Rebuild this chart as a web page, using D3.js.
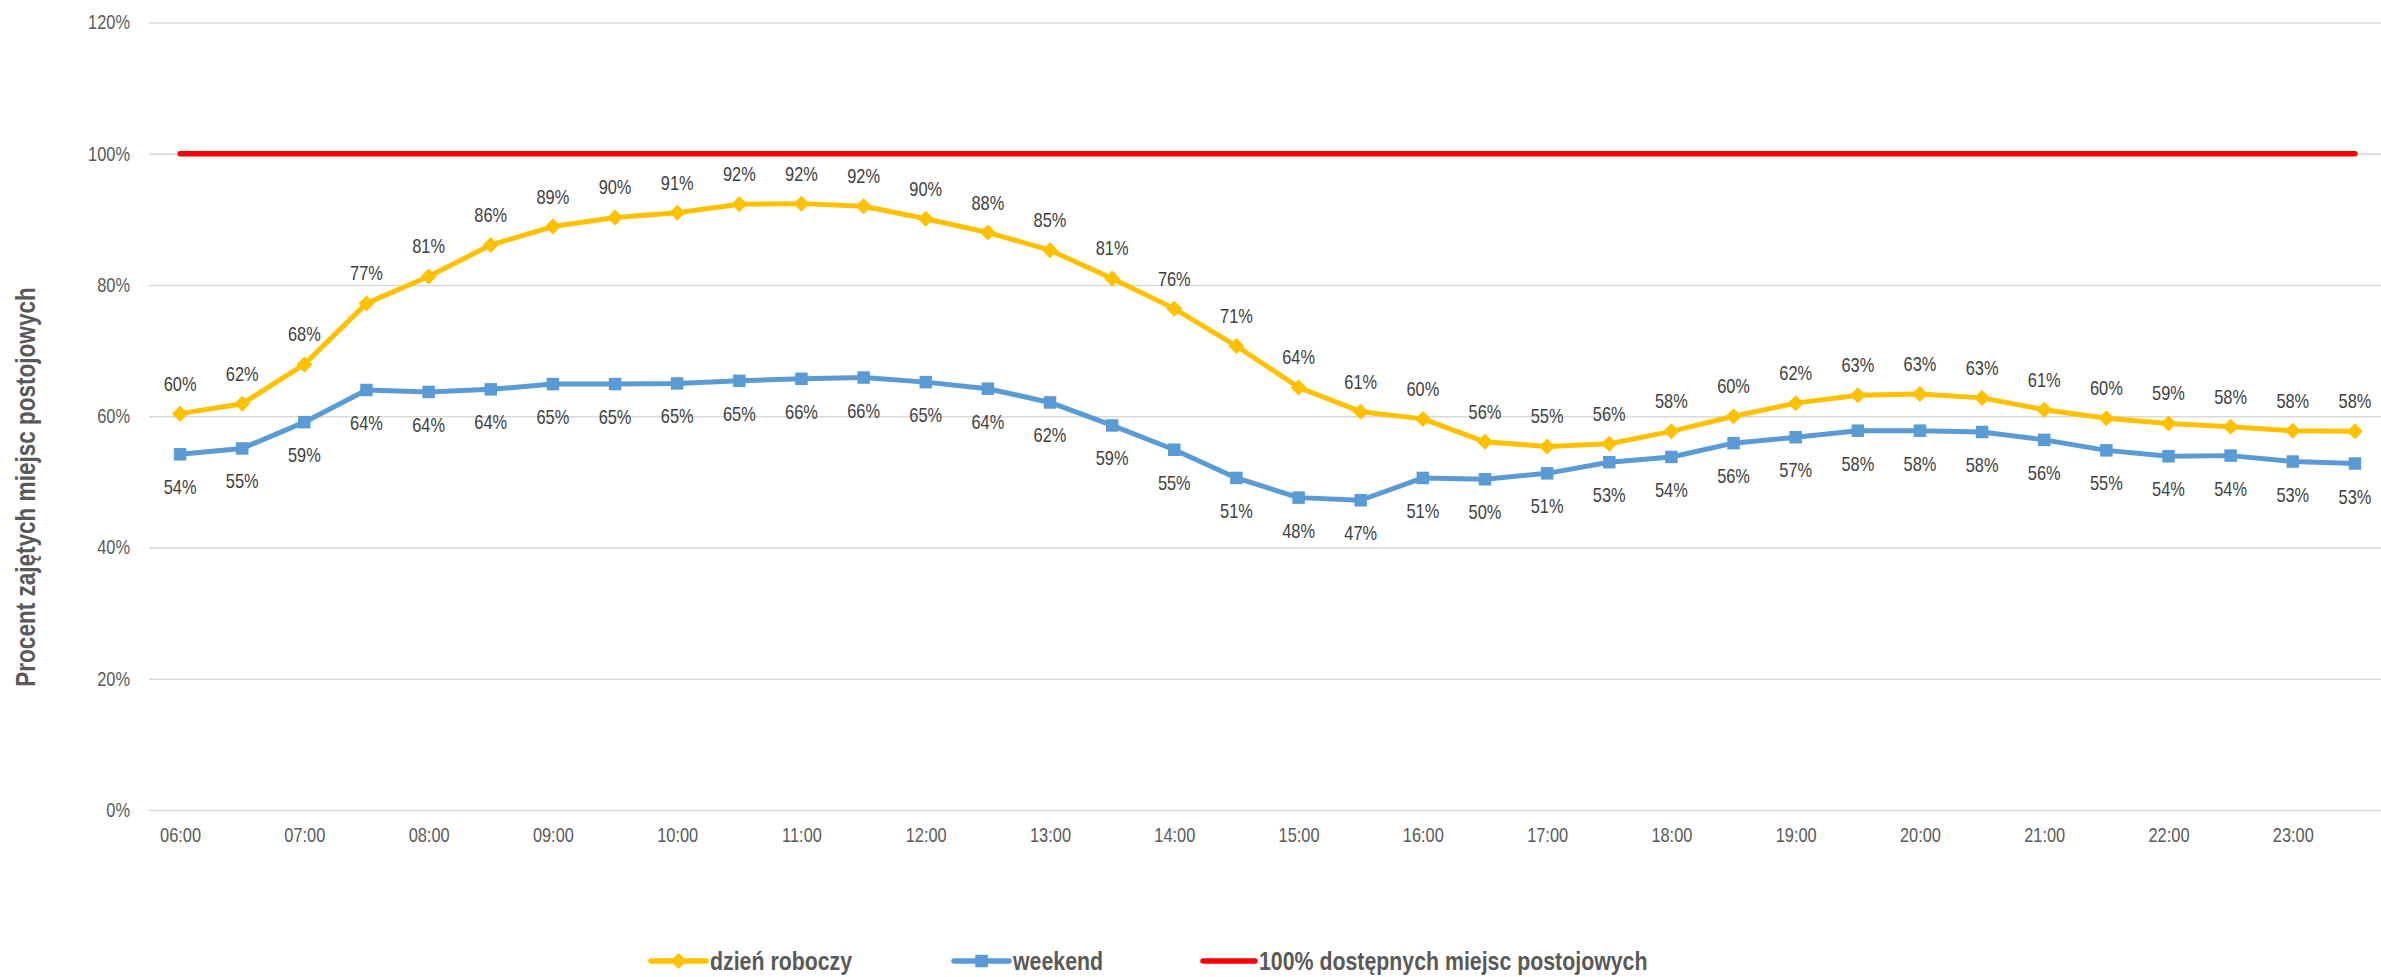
<!DOCTYPE html>
<html>
<head>
<meta charset="utf-8">
<script src="https://cdn.jsdelivr.net/npm/d3@7"></script>
<style>
  html, body { margin: 0; padding: 0; background: #fff; }
  svg { display: block; }
</style>
</head>
<body>
<svg id="chart" width="2381" height="977"></svg>
<script>
// ---------- DATA ----------
const categories = ["06:00","06:30","07:00","07:30","08:00","08:30","09:00","09:30","10:00","10:30",
  "11:00","11:30","12:00","12:30","13:00","13:30","14:00","14:30","15:00","15:30",
  "16:00","16:30","17:00","17:30","18:00","18:30","19:00","19:30","20:00","20:30",
  "21:00","21:30","22:00","22:30","23:00","23:30"];
const xTickLabels = ["06:00","07:00","08:00","09:00","10:00","11:00","12:00","13:00","14:00",
  "15:00","16:00","17:00","18:00","19:00","20:00","21:00","22:00","23:00"];
const yTickValues = [0, 0.2, 0.4, 0.6, 0.8, 1.0, 1.2];
const workday = [0.604,0.619,0.679,0.772,0.813,0.861,0.889,0.903,0.910,0.923,
  0.924,0.920,0.901,0.880,0.853,0.810,0.764,0.707,0.644,0.607,
  0.596,0.561,0.554,0.558,0.577,0.600,0.620,0.632,0.634,0.628,
  0.610,0.597,0.589,0.584,0.578,0.577];
const weekend = [0.542,0.551,0.591,0.640,0.637,0.641,0.649,0.649,0.650,0.654,
  0.657,0.659,0.652,0.642,0.621,0.586,0.549,0.506,0.476,0.472,
  0.506,0.504,0.513,0.530,0.538,0.559,0.568,0.578,0.578,0.576,
  0.564,0.548,0.539,0.540,0.531,0.528];
const capacity = [1,1,1,1,1,1,1,1,1,1,1,1,1,1,1,1,1,1,1,1,1,1,1,1,1,1,1,1,1,1,1,1,1,1,1,1];
const seriesNames = ["dzień roboczy", "weekend", "100% dostępnych miejsc postojowych"];
const yTitle = "Procent zajętych miejsc postojowych";

// ---------- FONT ----------
const narrowOK = (() => {
  const c = document.createElement("canvas").getContext("2d");
  const s = "abcdefghij0123456789%";
  c.font = "40px monospace"; const a = c.measureText(s).width;
  c.font = '40px "Liberation Sans Narrow", monospace'; const b = c.measureText(s).width;
  return Math.abs(a - b) > 1;
})();
const FAMILY = narrowOK ? '"Liberation Sans Narrow", "Arial Narrow", sans-serif' : '"Liberation Sans", Arial, sans-serif';
const SX = narrowOK ? 1 : 0.82;

// ---------- COLORS ----------
const C_WORK = "#FFC000", C_WEEK = "#5B9BD5", C_CAP = "#FF0000";
const C_GRID = "#D9D9D9", C_AXIS = "#595959", C_LABEL = "#404040";

// ---------- LAYOUT ----------
const svg = d3.select("#chart").style("font-family", FAMILY);
const plotL = 149, plotR = 2386, plotT = 22.5, plotB = 810;

const x = d3.scalePoint().domain(categories).range([plotL, plotR]).padding(0.5);
const y = d3.scaleLinear().domain([0, 1.2]).range([plotB, plotT]);

// grid + y axis
const yAxis = d3.axisLeft(y).tickValues(yTickValues).tickFormat(d3.format(".0%"))
  .tickSize(-(plotR - plotL)).tickPadding(19);
const gy = svg.append("g").attr("transform", `translate(${plotL},0)`).call(yAxis);
gy.select(".domain").remove();
gy.selectAll(".tick line").attr("stroke", C_GRID).attr("stroke-width", 1.6);
gy.selectAll(".tick text")
  .attr("fill", C_AXIS).attr("font-size", 20).attr("font-family", FAMILY)
  .attr("x", -19 / SX).attr("transform", `scale(${SX},1)`);

// x axis
const xAxis = d3.axisBottom(x).tickValues(xTickLabels).tickSize(0).tickPadding(18);
const gx = svg.append("g").attr("transform", `translate(0,${plotB})`).call(xAxis);
gx.select(".domain").remove();
gx.selectAll(".tick text")
  .attr("fill", C_AXIS).attr("font-size", 20).attr("font-family", FAMILY)
  .attr("transform", `scale(${SX},1)`);

// helper for scaled text
function addText(parent, tx, ty, str, o) {
  const g = parent.append("g")
    .attr("transform", `translate(${tx},${ty})${o.rotate ? ` rotate(${o.rotate})` : ""} scale(${SX},1)`);
  g.append("text").text(str)
    .attr("text-anchor", o.anchor || "start")
    .attr("font-size", o.size).attr("font-weight", o.weight || "normal")
    .attr("fill", o.fill).attr("font-family", FAMILY);
  return g;
}

// ---------- LINES ----------
const line = d3.line().x((d, i) => x(categories[i])).y(d => y(d));

svg.append("path").datum(capacity).attr("d", line)
  .attr("fill", "none").attr("stroke", C_CAP).attr("stroke-width", 5.5)
  .attr("stroke-linecap", "round");

svg.append("path").datum(weekend).attr("d", line)
  .attr("fill", "none").attr("stroke", C_WEEK).attr("stroke-width", 5)
  .attr("stroke-linejoin", "round");
svg.append("path").datum(workday).attr("d", line)
  .attr("fill", "none").attr("stroke", C_WORK).attr("stroke-width", 5)
  .attr("stroke-linejoin", "round");

// markers
const sq = 12.5;
svg.append("g").selectAll("rect").data(weekend).join("rect")
  .attr("x", (d, i) => x(categories[i]) - sq / 2).attr("y", d => y(d) - sq / 2)
  .attr("width", sq).attr("height", sq).attr("fill", C_WEEK);
const dm = 8;
svg.append("g").selectAll("path").data(workday).join("path")
  .attr("transform", (d, i) => `translate(${x(categories[i])},${y(d)})`)
  .attr("d", `M0,${-dm}L${dm},0L0,${dm}L${-dm},0Z`).attr("fill", C_WORK);

// data labels
const fmt = d3.format(".0%");
const labels = svg.append("g");
workday.forEach((d, i) => addText(labels, x(categories[i]), y(d) - 23, fmt(d), {size: 20, fill: C_LABEL, anchor: "middle"}));
weekend.forEach((d, i) => addText(labels, x(categories[i]), y(d) + 40, fmt(d), {size: 20, fill: C_LABEL, anchor: "middle"}));

// y axis title
addText(svg, 35, 487, yTitle, {size: 27.5, weight: "bold", fill: C_AXIS, anchor: "middle", rotate: -90});

// ---------- LEGEND ----------
const legY = 961;
const leg = svg.append("g");
const legItems = [
  {name: seriesNames[0], color: C_WORK, x0: 651, x1: 706, tx: 710, marker: "diamond"},
  {name: seriesNames[1], color: C_WEEK, x0: 954, x1: 1009, tx: 1013, marker: "square"},
  {name: seriesNames[2], color: C_CAP, x0: 1203, x1: 1255, tx: 1259, marker: null}
];
legItems.forEach(it => {
  leg.append("line").attr("x1", it.x0).attr("x2", it.x1).attr("y1", legY).attr("y2", legY)
    .attr("stroke", it.color).attr("stroke-width", 5.5).attr("stroke-linecap", "round");
  const cx = (it.x0 + it.x1) / 2;
  if (it.marker === "diamond") {
    leg.append("path").attr("transform", `translate(${cx},${legY})`)
      .attr("d", `M0,${-dm}L${dm},0L0,${dm}L${-dm},0Z`).attr("fill", it.color);
  } else if (it.marker === "square") {
    leg.append("rect").attr("x", cx - sq / 2).attr("y", legY - sq / 2)
      .attr("width", sq).attr("height", sq).attr("fill", it.color);
  }
  addText(leg, it.tx, legY + 9, it.name, {size: 26, weight: "bold", fill: C_AXIS});
});
</script>
</body>
</html>
